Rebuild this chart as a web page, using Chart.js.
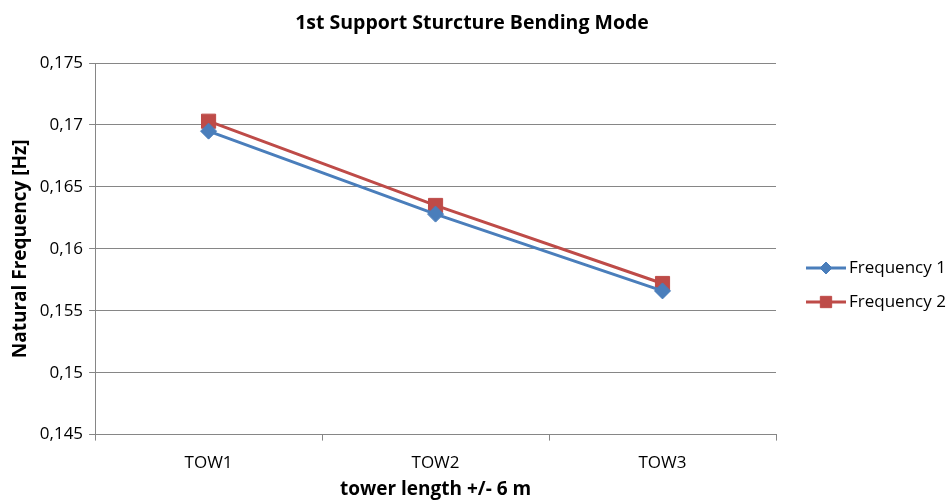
<!DOCTYPE html>
<html>
<head>
<meta charset="utf-8">
<script src="https://cdn.jsdelivr.net/npm/chart.js@4"></script>
<style>
  html, body { margin: 0; padding: 0; background: #fff; }
  #wrap { width: 949px; height: 502px; }
</style>
</head>
<body>
<div id="wrap"><canvas id="chart" width="949" height="502"></canvas></div>
<script>
const categories = ['TOW1', 'TOW2', 'TOW3'];
const frequency1 = [0.1695, 0.1628, 0.1566];
const frequency2 = [0.1703, 0.1635, 0.1572];
const yTickLabels = ['0,145', '0,15', '0,155', '0,16', '0,165', '0,17', '0,175'];

const FONT = "'Open Sans', 'Liberation Sans', sans-serif";
const blue = '#4A7EBB';
const red = '#BE4B48';

// title centred on the whole canvas + legend drawn like the original
const decor = {
    id: 'decor',
    afterDraw(chart) {
        const ctx = chart.ctx;
        ctx.save();
        ctx.fillStyle = '#000';
        ctx.font = 'bold 19.5px ' + FONT;
        ctx.textAlign = 'center';
        ctx.textBaseline = 'middle';
        ctx.fillText('1st Support Sturcture Bending Mode', 472, 23);

        const items = [
            { text: 'Frequency 1', color: blue, style: 'rectRot', size: 6 },
            { text: 'Frequency 2', color: red, style: 'rect', size: 8 }
        ];
        const x0 = 806;
        let y = 268;
        ctx.font = '17px ' + FONT;
        ctx.textAlign = 'left';
        items.forEach(it => {
            ctx.strokeStyle = it.color;
            ctx.lineWidth = 3;
            ctx.beginPath();
            ctx.moveTo(x0, y);
            ctx.lineTo(x0 + 40, y);
            ctx.stroke();
            ctx.fillStyle = it.color;
            ctx.lineWidth = 1;
            Chart.helpers.drawPoint(ctx, {
                pointStyle: it.style, radius: it.size, borderWidth: 1
            }, x0 + 20, y);
            ctx.fillStyle = '#000';
            ctx.fillText(it.text, x0 + 43, y);
            y += 34;
        });
        ctx.restore();
    }
};

new Chart(document.getElementById('chart'), {
    type: 'line',
    data: {
        labels: categories,
        datasets: [
            {
                label: 'Frequency 1',
                data: frequency1,
                borderColor: blue,
                backgroundColor: blue,
                borderWidth: 3,
                pointStyle: 'rectRot',
                pointRadius: 8,
                pointBorderWidth: 1
            },
            {
                label: 'Frequency 2',
                data: frequency2,
                borderColor: red,
                backgroundColor: red,
                borderWidth: 3,
                pointStyle: 'rect',
                pointRadius: 10,
                pointBorderWidth: 1
            }
        ]
    },
    options: {
        responsive: false,
        animation: false,
        layout: { padding: { top: 63, right: 173, left: 9, bottom: 3 } },
        plugins: {
            legend: { display: false },
            tooltip: { enabled: false },
            title: { display: false }
        },
        scales: {
            x: {
                offset: true,
                grid: {
                    display: true,
                    drawOnChartArea: false,
                    offset: true,
                    color: '#868686',
                    tickLength: 6
                },
                border: { color: '#868686', width: 1 },
                ticks: {
                    color: '#000',
                    font: { family: FONT, size: 17 },
                    padding: 12
                },
                title: {
                    display: true,
                    text: 'tower length +/- 6 m',
                    color: '#000',
                    font: { family: FONT, size: 19, weight: 'bold', lineHeight: 1 },
                    padding: { top: -5, bottom: 0 }
                }
            },
            y: {
                min: 0.145,
                max: 0.175,
                grid: { color: '#868686', tickLength: 6 },
                border: { color: '#868686', width: 1 },
                ticks: {
                    stepSize: 0.005,
                    color: '#000',
                    font: { family: FONT, size: 17 },
                    padding: 6,
                    callback: (v, i) => yTickLabels[i]
                },
                title: {
                    display: true,
                    text: 'Natural Frequency [Hz]',
                    color: '#000',
                    font: { family: FONT, size: 19, weight: 'bold' },
                    padding: { top: 0, bottom: 2 }
                }
            }
        }
    },
    plugins: [decor]
});
</script>
</body>
</html>
